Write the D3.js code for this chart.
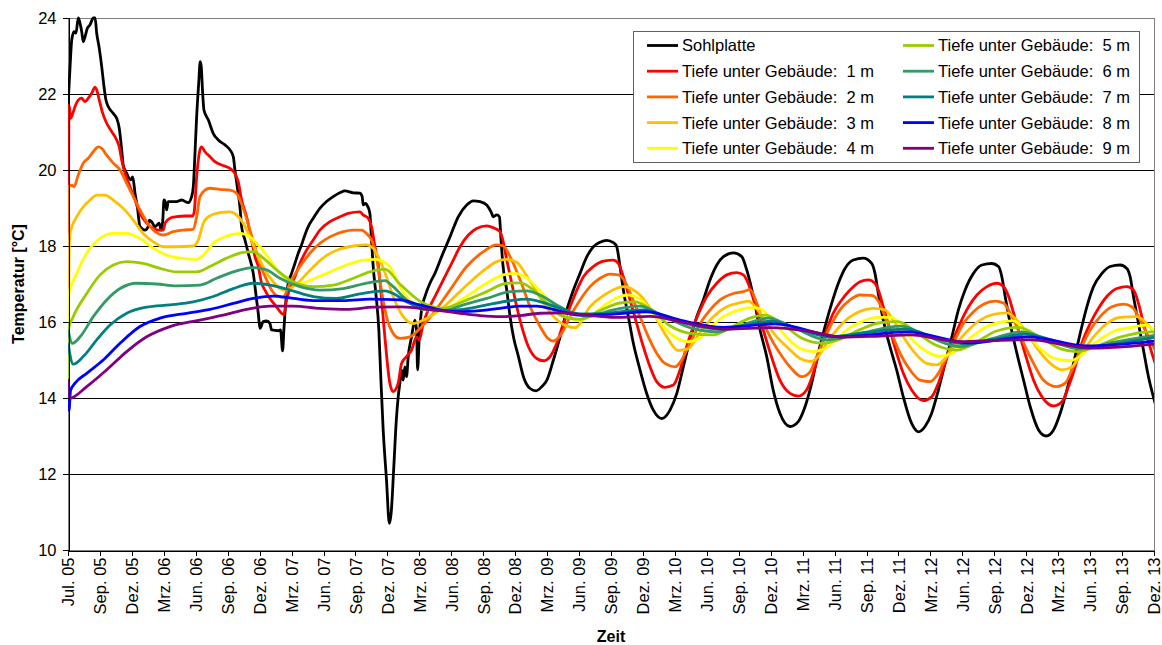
<!DOCTYPE html>
<html>
<head>
<meta charset="utf-8">
<script src="https://cdn.jsdelivr.net/npm/d3@7"></script>
<style>
  body { margin: 0; background: #fff; }
  svg { display: block; font-family: "Liberation Sans", Arial, sans-serif; }
  .axis path, .axis line { stroke: #000; shape-rendering: crispEdges; }
  .axis text { font-size: 16.5px; fill: #000; }
  .grid line { stroke: #000; shape-rendering: crispEdges; }
</style>
</head>
<body>
<div id="chart"></div>
<script>
// time is given as decimal year, values in °C

var sohlplatte = [
  [2005.496,21.67],[2005.512,22.72],[2005.525,23.42],[2005.543,23.64],[2005.558,23.6],[2005.576,24.0],
  [2005.590,23.86],[2005.603,23.64],[2005.615,23.38],[2005.629,23.51],[2005.647,23.73],[2005.668,23.82],
  [2005.693,24.0],[2005.707,24.0],[2005.720,23.6],[2005.740,23.2],[2005.759,22.72],[2005.777,22.19],
  [2005.792,21.84],[2005.810,21.67],[2005.849,21.49],[2005.876,21.36],[2005.896,21.1],[2005.915,20.53],
  [2005.927,20.13],[2005.954,19.91],[2005.985,19.74],[2006.001,19.82],[2006.019,19.39],[2006.037,19.03],
  [2006.058,18.51],[2006.097,18.42],[2006.122,18.51],[2006.130,18.68],[2006.149,18.64],[2006.175,18.51],
  [2006.208,18.6],[2006.222,18.42],[2006.235,18.64],[2006.245,19.21],[2006.258,19.12],[2006.266,18.95],
  [2006.278,19.17],[2006.344,19.17],[2006.383,19.21],[2006.434,19.14],[2006.461,19.3],[2006.474,19.56],
  [2006.487,20.44],[2006.500,21.4],[2006.516,22.28],[2006.528,22.85],[2006.536,22.72],[2006.547,22.02],
  [2006.557,21.58],[2006.591,21.32],[2006.630,20.96],[2006.669,20.79],[2006.721,20.66],[2006.760,20.53],
  [2006.786,20.35],[2006.799,20.0],[2006.817,19.56],[2006.838,19.03],[2006.851,18.51],[2006.877,18.16],
  [2006.903,17.81],[2006.942,17.28],[2006.968,16.58],[2006.981,16.23],[2006.994,15.83],[2007.020,16.01],
  [2007.046,16.03],[2007.072,15.96],[2007.085,15.79],[2007.137,15.77],[2007.155,15.79],[2007.171,15.24],
  [2007.181,15.79],[2007.197,16.58],[2007.215,17.02],[2007.241,17.28],[2007.267,17.54],[2007.293,17.81],
  [2007.319,18.03],[2007.345,18.29],[2007.371,18.51],[2007.410,18.73],[2007.462,18.99],[2007.514,19.17],
  [2007.566,19.3],[2007.618,19.4],[2007.657,19.45],[2007.722,19.4],[2007.774,19.39],[2007.792,19.3],
  [2007.800,19.08],[2007.819,19.12],[2007.834,19.05],[2007.852,18.86],[2007.865,18.16],[2007.878,17.46],
  [2007.899,16.75],[2007.922,15.8],[2007.938,14.5],[2007.956,13.16],[2007.982,11.84],[2008.004,10.7],
  [2008.019,11.0],[2008.039,12.2],[2008.058,13.4],[2008.073,14.03],[2008.086,14.39],[2008.099,14.74],
  [2008.112,14.47],[2008.125,14.82],[2008.138,14.56],[2008.151,15.09],[2008.177,15.61],[2008.203,16.05],
  [2008.216,15.79],[2008.224,14.74],[2008.237,15.61],[2008.255,16.32],[2008.281,16.67],[2008.320,17.02],
  [2008.359,17.28],[2008.411,17.72],[2008.476,18.24],[2008.541,18.77],[2008.606,19.08],[2008.658,19.19],
  [2008.710,19.17],[2008.762,19.08],[2008.796,18.9],[2008.814,18.77],[2008.840,18.82],[2008.861,18.77],
  [2008.872,18.24],[2008.887,17.54],[2008.918,16.84],[2008.944,16.14],[2008.970,15.61],[2009.009,15.09],
  [2009.048,14.56],[2009.100,14.25],[2009.147,14.19],[2009.192,14.3],[2009.231,14.47],[2009.282,15.0],
  [2009.334,15.61],[2009.387,16.32],[2009.438,16.84],[2009.490,17.28],[2009.543,17.72],[2009.594,17.98],
  [2009.646,18.1],[2009.698,18.15],[2009.750,18.09],[2009.776,17.98],[2009.802,17.46],[2009.828,16.84],
  [2009.867,16.14],[2009.906,15.44],[2009.958,14.74],[2010.010,14.12],[2010.062,13.68],[2010.128,13.46],
  [2010.192,13.68],[2010.245,14.12],[2010.296,14.82],[2010.348,15.53],[2010.401,16.14],[2010.452,16.58],
  [2010.505,17.11],[2010.557,17.5],[2010.609,17.72],[2010.687,17.82],[2010.752,17.72],[2010.791,17.37],
  [2010.843,16.67],[2010.895,15.79],[2010.947,15.09],[2010.998,14.2],[2011.050,13.6],[2011.129,13.25],
  [2011.193,13.38],[2011.246,13.77],[2011.298,14.39],[2011.349,15.18],[2011.402,15.88],[2011.454,16.49],
  [2011.506,17.02],[2011.558,17.41],[2011.623,17.63],[2011.701,17.68],[2011.766,17.54],[2011.792,17.28],
  [2011.818,16.75],[2011.857,16.05],[2011.909,15.35],[2011.961,14.74],[2012.013,14.03],[2012.078,13.33],
  [2012.130,13.11],[2012.182,13.25],[2012.234,13.6],[2012.286,14.21],[2012.338,14.91],[2012.391,15.61],
  [2012.442,16.32],[2012.494,16.84],[2012.559,17.28],[2012.625,17.5],[2012.702,17.54],[2012.754,17.46],
  [2012.780,17.19],[2012.806,16.67],[2012.845,15.96],[2012.897,15.18],[2012.949,14.47],[2013.001,13.77],
  [2013.066,13.16],[2013.126,13.0],[2013.183,13.16],[2013.235,13.6],[2013.287,14.21],[2013.339,14.91],
  [2013.391,15.7],[2013.443,16.4],[2013.495,16.93],[2013.561,17.28],[2013.625,17.46],[2013.703,17.5],
  [2013.755,17.41],[2013.781,17.19],[2013.807,16.67],[2013.846,15.96],[2013.885,15.26],[2013.924,14.56],
  [2013.976,13.86]
];

var tiefe1 = [
  [2005.496,14.5],[2005.504,21.71],[2005.517,21.36],[2005.533,21.49],[2005.551,21.67],[2005.576,21.84],
  [2005.603,21.89],[2005.629,21.8],[2005.654,21.89],[2005.681,22.02],[2005.707,22.18],[2005.720,22.11],
  [2005.740,21.84],[2005.767,21.49],[2005.798,21.23],[2005.837,21.01],[2005.876,20.79],[2005.896,20.61],
  [2005.915,20.26],[2005.941,19.91],[2005.980,19.56],[2006.019,19.21],[2006.058,18.86],[2006.110,18.6],
  [2006.162,18.46],[2006.201,18.42],[2006.240,18.42],[2006.253,18.6],[2006.292,18.73],[2006.344,18.77],
  [2006.409,18.79],[2006.469,18.79],[2006.481,18.9],[2006.500,19.82],[2006.526,20.53],[2006.539,20.61],
  [2006.565,20.48],[2006.604,20.35],[2006.643,20.22],[2006.695,20.13],[2006.760,20.04],[2006.799,19.91],
  [2006.825,19.69],[2006.851,19.21],[2006.890,18.77],[2006.929,18.16],[2006.955,17.72],[2006.981,17.46],
  [2007.007,17.02],[2007.033,16.84],[2007.072,16.62],[2007.124,16.4],[2007.163,16.23],[2007.181,16.2],
  [2007.202,16.58],[2007.223,16.84],[2007.267,17.19],[2007.306,17.54],[2007.358,17.89],[2007.410,18.16],
  [2007.462,18.42],[2007.540,18.64],[2007.618,18.77],[2007.683,18.86],[2007.774,18.9],[2007.800,18.82],
  [2007.839,18.73],[2007.865,18.51],[2007.891,18.0],[2007.914,17.6],[2007.938,16.8],[2007.969,15.61],
  [2008.008,14.39],[2008.034,14.17],[2008.073,14.39],[2008.099,14.91],[2008.138,15.09],[2008.177,15.26],
  [2008.216,15.61],[2008.237,15.53],[2008.268,15.96],[2008.307,16.32],[2008.359,16.67],[2008.424,17.11],
  [2008.489,17.54],[2008.554,17.98],[2008.619,18.29],[2008.684,18.46],[2008.762,18.53],[2008.827,18.46],
  [2008.866,18.38],[2008.887,18.16],[2008.918,17.63],[2008.957,17.02],[2008.996,16.4],[2009.035,15.88],
  [2009.087,15.35],[2009.152,15.04],[2009.204,14.98],[2009.256,15.09],[2009.308,15.44],[2009.360,15.96],
  [2009.412,16.4],[2009.465,16.84],[2009.516,17.19],[2009.594,17.46],[2009.672,17.6],[2009.750,17.63],
  [2009.789,17.54],[2009.828,17.19],[2009.880,16.58],[2009.932,15.96],[2009.984,15.35],[2010.036,14.82],
  [2010.088,14.43],[2010.153,14.28],[2010.218,14.34],[2010.270,14.74],[2010.322,15.35],[2010.374,15.88],
  [2010.427,16.32],[2010.479,16.67],[2010.557,17.02],[2010.635,17.24],[2010.713,17.3],[2010.765,17.24],
  [2010.791,17.11],[2010.830,16.75],[2010.869,16.32],[2010.920,15.79],[2010.973,15.2],[2011.050,14.47],
  [2011.129,14.12],[2011.193,14.05],[2011.258,14.21],[2011.310,14.65],[2011.362,15.26],[2011.414,15.79],
  [2011.466,16.23],[2011.532,16.58],[2011.597,16.84],[2011.675,17.06],[2011.740,17.11],[2011.792,17.02],
  [2011.818,16.84],[2011.857,16.4],[2011.909,15.79],[2011.961,15.18],[2012.013,14.65],[2012.078,14.21],
  [2012.169,13.93],[2012.234,14.03],[2012.286,14.39],[2012.338,14.91],[2012.391,15.44],[2012.455,15.96],
  [2012.521,16.4],[2012.586,16.71],[2012.664,16.93],[2012.742,17.02],[2012.794,16.93],[2012.833,16.67],
  [2012.872,16.23],[2012.923,15.61],[2012.976,15.0],[2013.027,14.47],[2013.093,14.03],[2013.183,13.79],
  [2013.248,13.9],[2013.300,14.3],[2013.352,14.82],[2013.404,15.44],[2013.469,15.96],[2013.534,16.36],
  [2013.599,16.67],[2013.677,16.88],[2013.755,16.93],[2013.807,16.84],[2013.846,16.49],[2013.885,15.96],
  [2013.935,15.35],[2013.976,14.91]
];

var tiefe2 = [
  [2005.496,14.5],[2005.500,19.56],[2005.525,19.6],[2005.543,19.56],[2005.576,19.87],[2005.615,20.18],
  [2005.654,20.31],[2005.693,20.48],[2005.732,20.61],[2005.759,20.57],[2005.798,20.39],[2005.849,20.18],
  [2005.902,20.0],[2005.954,19.65],[2006.006,19.3],[2006.058,18.95],[2006.110,18.64],[2006.162,18.42],
  [2006.240,18.29],[2006.318,18.38],[2006.395,18.42],[2006.473,18.44],[2006.500,18.77],[2006.526,19.3],
  [2006.565,19.47],[2006.604,19.52],[2006.682,19.49],[2006.760,19.47],[2006.812,19.39],[2006.838,19.21],
  [2006.877,18.86],[2006.916,18.42],[2006.955,17.98],[2006.994,17.54],[2007.046,17.11],[2007.085,16.84],
  [2007.137,16.67],[2007.173,16.65],[2007.228,17.02],[2007.306,17.46],[2007.384,17.81],[2007.462,18.07],
  [2007.540,18.24],[2007.644,18.38],[2007.722,18.42],[2007.787,18.42],[2007.826,18.33],[2007.865,18.16],
  [2007.904,17.72],[2007.930,17.1],[2007.982,16.14],[2008.034,15.7],[2008.086,15.57],[2008.164,15.61],
  [2008.242,15.83],[2008.346,16.23],[2008.476,16.84],[2008.606,17.46],[2008.736,17.85],[2008.840,18.03],
  [2008.892,18.0],[2008.944,17.72],[2009.022,17.11],[2009.100,16.4],[2009.178,15.88],[2009.231,15.6],
  [2009.282,15.5],[2009.347,15.7],[2009.412,16.14],[2009.490,16.58],[2009.568,16.93],[2009.646,17.15],
  [2009.724,17.26],[2009.789,17.24],[2009.841,17.06],[2009.893,16.67],[2009.958,16.14],[2010.023,15.61],
  [2010.088,15.18],[2010.153,14.91],[2010.231,14.82],[2010.283,15.0],[2010.348,15.44],[2010.427,15.96],
  [2010.505,16.32],[2010.583,16.58],[2010.687,16.75],[2010.765,16.8],[2010.817,16.85],[2010.869,16.5],
  [2010.920,16.0],[2010.986,15.53],[2011.050,15.18],[2011.129,14.82],[2011.220,14.56],[2011.285,14.69],
  [2011.337,15.09],[2011.394,15.53],[2011.454,15.96],[2011.519,16.32],[2011.597,16.58],[2011.675,16.71],
  [2011.766,16.7],[2011.818,16.55],[2011.870,16.14],[2011.922,15.7],[2011.987,15.18],[2012.065,14.74],
  [2012.143,14.47],[2012.221,14.43],[2012.286,14.65],[2012.338,15.0],[2012.403,15.44],[2012.481,15.96],
  [2012.559,16.27],[2012.637,16.47],[2012.728,16.55],[2012.793,16.5],[2012.845,16.23],[2012.897,15.88],
  [2012.962,15.35],[2013.027,14.91],[2013.105,14.47],[2013.209,14.3],[2013.274,14.39],[2013.326,14.74],
  [2013.391,15.26],[2013.469,15.79],[2013.547,16.14],[2013.638,16.4],[2013.729,16.47],[2013.794,16.4],
  [2013.846,16.14],[2013.898,15.79],[2013.976,15.26]
];

var tiefe3 = [
  [2005.496,14.5],[2005.504,17.8],[2005.512,18.34],[2005.564,18.77],[2005.615,19.03],[2005.668,19.21],
  [2005.720,19.34],[2005.785,19.34],[2005.849,19.21],[2005.927,18.99],[2006.006,18.68],[2006.083,18.33],
  [2006.162,18.11],[2006.240,17.98],[2006.344,17.98],[2006.474,18.0],[2006.513,18.16],[2006.552,18.6],
  [2006.591,18.77],[2006.682,18.88],[2006.760,18.9],[2006.812,18.82],[2006.864,18.6],[2006.916,18.24],
  [2006.968,17.81],[2007.033,17.37],[2007.098,17.06],[2007.176,16.84],[2007.228,16.88],[2007.280,17.0],
  [2007.410,17.45],[2007.514,17.75],[2007.618,17.92],[2007.722,18.0],[2007.826,18.03],[2007.878,17.94],
  [2007.930,17.63],[2007.982,17.19],[2008.034,16.67],[2008.112,16.14],[2008.190,15.96],[2008.268,16.05],
  [2008.398,16.32],[2008.554,16.8],[2008.710,17.28],[2008.840,17.59],[2008.918,17.65],[2009.000,17.56],
  [2009.078,17.19],[2009.182,16.62],[2009.286,16.14],[2009.387,15.89],[2009.450,15.85],[2009.568,16.4],
  [2009.698,16.75],[2009.828,16.93],[2009.958,16.71],[2010.062,16.23],[2010.167,15.61],[2010.255,15.25],
  [2010.333,15.3],[2010.440,15.79],[2010.530,16.14],[2010.635,16.4],[2010.755,16.52],[2010.802,16.55],
  [2010.882,16.3],[2010.947,15.96],[2011.025,15.61],[2011.103,15.35],[2011.207,15.04],[2011.285,14.96],
  [2011.350,15.09],[2011.415,15.44],[2011.493,15.79],[2011.584,16.1],[2011.675,16.28],[2011.779,16.36],
  [2011.870,16.32],[2011.935,16.05],[2012.013,15.61],[2012.104,15.18],[2012.195,14.91],[2012.273,14.87],
  [2012.351,15.09],[2012.429,15.44],[2012.520,15.79],[2012.611,16.05],[2012.715,16.2],[2012.819,16.24],
  [2012.897,16.05],[2012.976,15.7],[2013.066,15.26],[2013.157,14.91],[2013.248,14.74],[2013.326,14.82],
  [2013.404,15.18],[2013.495,15.61],[2013.599,15.96],[2013.703,16.12],[2013.833,16.14],[2013.898,16.0],
  [2013.976,15.7]
];

var tiefe4 = [
  [2005.496,14.5],[2005.498,16.67],[2005.564,17.28],[2005.642,17.81],[2005.746,18.2],[2005.849,18.33],
  [2005.954,18.33],[2006.058,18.2],[2006.162,17.94],[2006.266,17.76],[2006.370,17.68],[2006.500,17.65],
  [2006.552,17.76],[2006.630,18.07],[2006.734,18.26],[2006.838,18.33],[2006.916,18.24],[2006.994,17.98],
  [2007.072,17.63],[2007.150,17.28],[2007.228,17.06],[2007.290,17.0],[2007.358,17.06],[2007.514,17.28],
  [2007.670,17.5],[2007.800,17.63],[2007.904,17.65],[2007.930,17.62],[2008.008,17.46],[2008.086,16.93],
  [2008.190,16.49],[2008.294,16.32],[2008.424,16.33],[2008.580,16.62],[2008.736,16.97],[2008.892,17.24],
  [2008.970,17.28],[2009.078,17.15],[2009.182,16.8],[2009.286,16.4],[2009.387,16.14],[2009.490,16.05],
  [2009.568,16.15],[2009.685,16.45],[2009.787,16.65],[2009.867,16.71],[2009.958,16.6],[2010.088,16.1],
  [2010.192,15.7],[2010.335,15.48],[2010.413,15.55],[2010.505,15.85],[2010.609,16.14],[2010.713,16.3],
  [2010.817,16.38],[2010.895,16.35],[2010.998,16.0],[2011.103,15.6],[2011.207,15.3],[2011.310,15.22],
  [2011.402,15.3],[2011.493,15.55],[2011.597,15.85],[2011.701,16.03],[2011.805,16.12],[2011.922,16.12],
  [2011.987,15.95],[2012.078,15.55],[2012.182,15.25],[2012.299,15.1],[2012.377,15.15],[2012.455,15.35],
  [2012.559,15.65],[2012.664,15.88],[2012.780,16.0],[2012.871,16.03],[2012.976,15.7],[2013.079,15.3],
  [2013.183,15.05],[2013.313,14.98],[2013.391,15.1],[2013.469,15.35],[2013.573,15.6],[2013.677,15.79],
  [2013.781,15.85],[2013.898,15.92],[2013.976,15.75]
];

var tiefe5 = [
  [2005.496,14.5],[2005.498,15.79],[2005.537,16.14],[2005.642,16.75],[2005.746,17.24],[2005.849,17.5],
  [2005.954,17.59],[2006.083,17.54],[2006.214,17.41],[2006.344,17.32],[2006.500,17.32],[2006.604,17.46],
  [2006.734,17.68],[2006.864,17.83],[2006.942,17.85],[2007.020,17.68],[2007.124,17.37],[2007.254,17.06],
  [2007.410,16.93],[2007.566,16.97],[2007.722,17.15],[2007.852,17.32],[2007.969,17.39],[2008.086,17.0],
  [2008.242,16.55],[2008.424,16.36],[2008.606,16.58],[2008.762,16.8],[2008.918,17.02],[2009.022,17.03],
  [2009.126,16.84],[2009.231,16.49],[2009.334,16.18],[2009.490,16.07],[2009.646,16.3],[2009.802,16.5],
  [2009.919,16.53],[2010.036,16.35],[2010.192,15.9],[2010.348,15.7],[2010.530,15.66],[2010.661,15.85],
  [2010.817,16.1],[2010.934,16.18],[2011.050,16.0],[2011.207,15.6],[2011.389,15.44],[2011.519,15.55],
  [2011.675,15.8],[2011.831,15.98],[2011.974,16.01],[2012.104,15.75],[2012.260,15.4],[2012.429,15.26],
  [2012.572,15.45],[2012.728,15.75],[2012.910,15.86],[2013.079,15.6],[2013.235,15.3],[2013.365,15.22],
  [2013.508,15.35],[2013.703,15.6],[2013.950,15.74],[2013.976,15.73]
];

var tiefe6 = [
  [2005.496,15.8],[2005.530,15.44],[2005.590,15.61],[2005.693,16.14],[2005.798,16.58],[2005.902,16.88],
  [2006.032,17.02],[2006.188,17.0],[2006.344,16.95],[2006.526,16.97],[2006.656,17.15],[2006.786,17.32],
  [2006.942,17.43],[2007.046,17.37],[2007.150,17.15],[2007.306,16.93],[2007.462,16.84],[2007.644,16.88],
  [2007.826,17.02],[2007.969,17.09],[2008.034,16.93],[2008.138,16.58],[2008.268,16.33],[2008.424,16.3],
  [2008.580,16.45],[2008.762,16.62],[2008.944,16.8],[2009.074,16.82],[2009.178,16.71],[2009.308,16.45],
  [2009.438,16.23],[2009.568,16.15],[2009.724,16.3],[2009.958,16.42],[2010.114,16.2],[2010.348,15.85],
  [2010.557,15.74],[2010.739,15.9],[2010.960,16.1],[2011.129,15.9],[2011.415,15.53],[2011.675,15.7],
  [2011.997,15.89],[2012.218,15.6],[2012.455,15.35],[2012.689,15.55],[2012.936,15.74],[2013.157,15.5],
  [2013.391,15.29],[2013.625,15.45],[2013.976,15.65]
];

var tiefe7 = [
  [2005.496,15.44],[2005.537,14.89],[2005.615,15.09],[2005.720,15.53],[2005.824,15.92],[2005.954,16.23],
  [2006.110,16.39],[2006.292,16.45],[2006.474,16.53],[2006.630,16.67],[2006.786,16.88],[2006.942,17.02],
  [2007.072,16.97],[2007.228,16.84],[2007.410,16.67],[2007.592,16.62],[2007.774,16.74],[2007.969,16.82],
  [2008.034,16.75],[2008.138,16.53],[2008.268,16.36],[2008.424,16.3],[2008.580,16.33],[2008.762,16.45],
  [2008.944,16.56],[2009.074,16.6],[2009.204,16.51],[2009.334,16.36],[2009.490,16.21],[2009.646,16.22],
  [2009.984,16.32],[2010.192,16.1],[2010.427,15.88],[2010.583,15.81],[2010.778,15.92],[2010.989,16.02],
  [2011.207,15.8],[2011.441,15.61],[2011.714,15.72],[2012.029,15.81],[2012.260,15.6],[2012.494,15.42],
  [2012.728,15.55],[2012.962,15.68],[2013.196,15.5],[2013.417,15.33],[2013.664,15.42],[2013.976,15.6]
];

var tiefe8 = [
  [2005.496,14.5],[2005.504,13.68],[2005.516,14.2],[2005.551,14.39],[2005.642,14.65],[2005.771,15.0],
  [2005.902,15.44],[2006.058,15.88],[2006.214,16.1],[2006.422,16.23],[2006.604,16.33],[2006.786,16.49],
  [2006.942,16.62],[2007.098,16.68],[2007.254,16.62],[2007.436,16.56],[2007.644,16.56],[2007.852,16.6],
  [2008.086,16.58],[2008.242,16.45],[2008.398,16.32],[2008.554,16.27],[2008.710,16.3],[2008.866,16.36],
  [2009.022,16.42],[2009.152,16.42],[2009.282,16.33],[2009.387,16.24],[2009.490,16.18],[2009.724,16.2],
  [2010.010,16.27],[2010.270,16.05],[2010.609,15.86],[2011.012,15.95],[2011.519,15.61],[2012.042,15.74],
  [2012.533,15.45],[2012.988,15.61],[2013.443,15.37],[2013.976,15.5]
];

var tiefe9 = [
  [2005.496,14.5],[2005.506,13.99],[2005.642,14.3],[2005.798,14.74],[2005.954,15.22],[2006.110,15.61],
  [2006.292,15.88],[2006.526,16.05],[2006.708,16.18],[2006.890,16.33],[2007.072,16.42],[2007.254,16.42],
  [2007.462,16.36],[2007.670,16.33],[2007.878,16.39],[2008.086,16.4],[2008.242,16.36],[2008.398,16.3],
  [2008.554,16.23],[2008.710,16.17],[2008.866,16.14],[2009.022,16.17],[2009.178,16.23],[2009.334,16.24],
  [2009.490,16.2],[2009.763,16.12],[2010.036,16.15],[2010.348,15.95],[2010.637,15.81],[2010.973,15.85],
  [2011.285,15.75],[2011.542,15.6],[2011.831,15.63],[2012.065,15.66],[2012.455,15.48],[2012.767,15.52],
  [2013.014,15.53],[2013.235,15.42],[2013.495,15.31],[2013.742,15.35],[2013.976,15.42]
];

var seriesNames = ["Sohlplatte",
  "Tiefe unter Geb\u00e4ude:  1 m", "Tiefe unter Geb\u00e4ude:  2 m", "Tiefe unter Geb\u00e4ude:  3 m",
  "Tiefe unter Geb\u00e4ude:  4 m", "Tiefe unter Geb\u00e4ude:  5 m", "Tiefe unter Geb\u00e4ude:  6 m",
  "Tiefe unter Geb\u00e4ude:  7 m", "Tiefe unter Geb\u00e4ude:  8 m", "Tiefe unter Geb\u00e4ude:  9 m"];
var seriesData = [sohlplatte, tiefe1, tiefe2, tiefe3, tiefe4, tiefe5, tiefe6, tiefe7, tiefe8, tiefe9];
var seriesColors = ["#000000", "#ff0000", "#ff6600", "#ffc000", "#ffff00",
                    "#99cc00", "#339966", "#008080", "#0000ff", "#800080"];

var monthNames = ["Jan.", "Feb.", "Mrz.", "Apr.", "Mai", "Jun.", "Jul.", "Aug.", "Sep.", "Okt.", "Nov.", "Dez."];
var yTicks = [10, 12, 14, 16, 18, 20, 22, 24];
var tickStepDays = 91;

// #############################################################################
var W = 1162, H = 645;
var plotLeft = 68, plotRight = 1154, plotTop = 18, plotBottom = 550;

function yearToDate(t) {
    var y = Math.floor(t);
    var a = Date.UTC(y, 0, 1), b = Date.UTC(y + 1, 0, 1);
    return new Date(a + (t - y) * (b - a));
}

var startDate = new Date(Date.UTC(2005, 6, 1));
var tickDates = d3.range(35).map(function(i) { return d3.utcDay.offset(startDate, i * tickStepDays); });

var xScale = d3.scaleUtc()
    .domain([startDate, tickDates[tickDates.length - 1]])
    .range([plotLeft, plotRight]);

var yScale = d3.scaleLinear()
    .domain([10, 24])
    .range([plotBottom, plotTop]);

var svg = d3.select("#chart").append("svg")
    .attr("width", W)
    .attr("height", H);

svg.append("rect").attr("width", W).attr("height", H).attr("fill", "#fff");

svg.append("defs").append("clipPath").attr("id", "plotclip")
    .append("rect")
    .attr("x", plotLeft).attr("y", plotTop - 2)
    .attr("width", plotRight - plotLeft).attr("height", plotBottom - plotTop + 2);

// grid
svg.append("g").attr("class", "grid")
    .selectAll("line")
    .data(yTicks.slice(1))
    .enter().append("line")
    .attr("x1", plotLeft).attr("x2", plotRight)
    .attr("y1", function(d) { return Math.round(yScale(d)) + 0.5; })
    .attr("y2", function(d) { return Math.round(yScale(d)) + 0.5; });

svg.append("rect")
    .attr("x", plotLeft + 0.5).attr("y", plotTop + 0.5)
    .attr("width", plotRight - plotLeft).attr("height", plotBottom - plotTop)
    .attr("fill", "none").attr("stroke", "#808080")
    .style("shape-rendering", "crispEdges");

// lines
var line = d3.line()
    .x(function(d) { return xScale(yearToDate(d[0])); })
    .y(function(d) { return yScale(d[1]); })
    .curve(d3.curveMonotoneX);

svg.append("g").attr("clip-path", "url(#plotclip)")
    .selectAll("path")
    .data(seriesData)
    .enter().append("path")
    .attr("d", line)
    .attr("fill", "none")
    .attr("stroke", function(d, i) { return seriesColors[i]; })
    .attr("stroke-width", 2.8)
    .attr("stroke-linejoin", "round");

// axes
var yAxis = d3.axisLeft(yScale).tickValues(yTicks).tickSize(6).tickPadding(6);
svg.append("g").attr("class", "axis")
    .attr("transform", "translate(" + (plotLeft + 0.5) + ",0)")
    .call(yAxis);

var xAxis = d3.axisBottom(xScale)
    .tickValues(tickDates)
    .tickSize(5)
    .tickFormat(function(d) {
        return monthNames[d.getUTCMonth()] + " " + String(d.getUTCFullYear()).slice(2);
    });
var gx = svg.append("g").attr("class", "axis")
    .attr("transform", "translate(0," + (plotBottom + 0.5) + ")")
    .call(xAxis);
gx.selectAll("text")
    .attr("transform", "rotate(-90)")
    .attr("text-anchor", "end")
    .attr("x", -7)
    .attr("y", 0)
    .attr("dy", "0.35em");

svg.append("text")
    .attr("transform", "translate(24," + ((plotTop + plotBottom) / 2) + ") rotate(-90)")
    .attr("text-anchor", "middle")
    .style("font-size", "16px").style("font-weight", "bold")
    .text("Temperatur [\u00b0C]");

svg.append("text")
    .attr("x", (plotLeft + plotRight) / 2).attr("y", 642)
    .attr("text-anchor", "middle")
    .style("font-size", "16px").style("font-weight", "bold")
    .text("Zeit");

// legend
var legend = svg.append("g");
legend.append("rect")
    .attr("x", 633.5).attr("y", 31.5)
    .attr("width", 506).attr("height", 131)
    .attr("fill", "#fff").attr("stroke", "#606060");

var items = legend.selectAll("g.item")
    .data(seriesNames)
    .enter().append("g")
    .attr("transform", function(d, i) {
        var col = i < 5 ? 0 : 1, row = i % 5;
        return "translate(" + (col ? 903 : 647) + "," + (45.5 + row * 25.7) + ")";
    });
items.append("line")
    .attr("x1", 0).attr("x2", 31)
    .attr("stroke", function(d, i) { return seriesColors[i]; })
    .attr("stroke-width", 2.8);
items.append("text")
    .attr("x", 35).attr("dy", "0.36em")
    .style("font-size", "16.5px")
    .style("white-space", "pre")
    .attr("xml:space", "preserve")
    .text(function(d) { return d; });
</script>
</body>
</html>
